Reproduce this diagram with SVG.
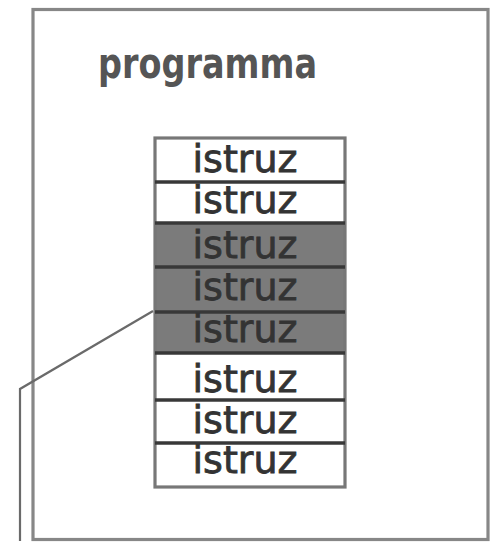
<svg xmlns="http://www.w3.org/2000/svg" width="491" height="543" viewBox="0 0 491 543">
<style>
.frame{fill:#fff;stroke:#878787;stroke-width:3.2}
.cell{fill:#fff}
.dark{fill:#7b7b7b}
.sep{stroke:#383838;stroke-width:3.5}
.lbl{font-family:"DejaVu Sans",sans-serif;font-size:37px;fill:#333;stroke:#333;stroke-width:0.8;text-anchor:middle}
.title{font-family:"DejaVu Sans",sans-serif;font-size:42px;font-weight:bold;fill:#555}
.conn{fill:none;stroke:#6a6a6a;stroke-width:2.2}
</style>
<rect width="491" height="543" fill="#fff"/>
<g id="programma">
<rect class="frame" x="33" y="9.5" width="455" height="530"/>
<text class="title" x="98" y="78" textLength="219" lengthAdjust="spacingAndGlyphs">programma</text>
</g>
<g id="stack">
<rect class="cell" x="155" y="138" width="190" height="349"/>
<rect class="dark" x="155" y="223" width="190" height="130"/>
<rect x="155" y="138" width="190" height="349" fill="none" stroke="#777" stroke-width="3.2"/>
<line class="sep" x1="155" y1="182" x2="345" y2="182"/>
<line class="sep" x1="155" y1="223" x2="345" y2="223" stroke="#5a5a5a"/>
<line class="sep" x1="155" y1="267" x2="345" y2="267"/>
<line class="sep" x1="155" y1="312" x2="345" y2="312"/>
<line class="sep" x1="155" y1="353" x2="345" y2="353"/>
<line class="sep" x1="155" y1="400" x2="345" y2="400" stroke="#555"/>
<line class="sep" x1="155" y1="443" x2="345" y2="443" stroke="#555"/>
</g>
<g id="istruz-1"><text class="lbl" x="245" y="172" textLength="105" lengthAdjust="spacingAndGlyphs">istruz</text></g>
<g id="istruz-2"><text class="lbl" x="245" y="213" textLength="105" lengthAdjust="spacingAndGlyphs">istruz</text></g>
<g id="istruz-3"><text class="lbl" x="245" y="258" textLength="105" lengthAdjust="spacingAndGlyphs">istruz</text></g>
<g id="istruz-4"><text class="lbl" x="245" y="300" textLength="105" lengthAdjust="spacingAndGlyphs">istruz</text></g>
<g id="istruz-5"><text class="lbl" x="245" y="342" textLength="105" lengthAdjust="spacingAndGlyphs">istruz</text></g>
<g id="istruz-6"><text class="lbl" x="245" y="392" textLength="105" lengthAdjust="spacingAndGlyphs">istruz</text></g>
<g id="istruz-7"><text class="lbl" x="245" y="433" textLength="105" lengthAdjust="spacingAndGlyphs">istruz</text></g>
<g id="istruz-8"><text class="lbl" x="245" y="473" textLength="105" lengthAdjust="spacingAndGlyphs">istruz</text></g>
<g id="connectors">
<path class="conn" d="M20,541 V389 L153,311"/>
</g>
</svg>
